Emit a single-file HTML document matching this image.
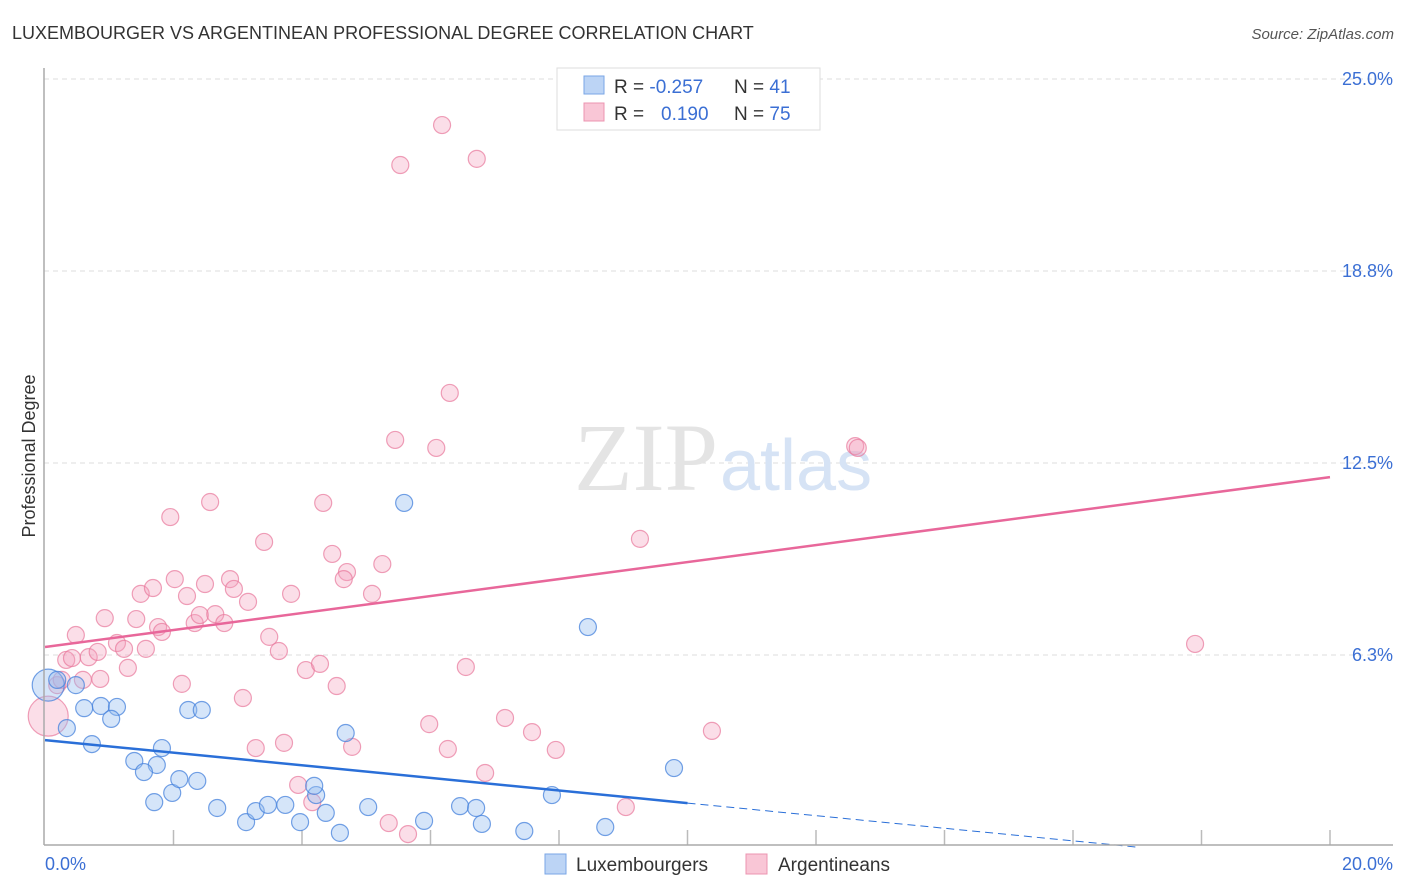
<!DOCTYPE html>
<html><head><meta charset="utf-8"><style>
body{margin:0;background:#fff;font-family:"Liberation Sans",sans-serif}
svg{display:block}
</style></head><body>
<svg width="1406" height="892" viewBox="0 0 1406 892" xmlns="http://www.w3.org/2000/svg">
<text x="12" y="39" font-size="18" fill="#333">LUXEMBOURGER VS ARGENTINEAN PROFESSIONAL DEGREE CORRELATION CHART</text>
<text x="1394" y="39" font-size="15" fill="#555" text-anchor="end" font-style="italic">Source: ZipAtlas.com</text>
<g id="grid"></g>
<text x="718" y="490" font-size="96" fill="#e4e4e4" text-anchor="end" font-family="Liberation Serif">ZIP</text>
<text x="720" y="490" font-size="72" fill="#d6e3f5">atlas</text>
<g id="marks"></g>
<line x1="44" y1="68" x2="44" y2="845" stroke="#aaa" stroke-width="1.5"/>
<line x1="44" y1="845" x2="1393" y2="845" stroke="#aaa" stroke-width="1.5"/>
<text x="35" y="456" font-size="18" fill="#333" text-anchor="middle" transform="rotate(-90 35 456)">Professional Degree</text>
<text x="45" y="870" font-size="18" fill="#3b6fd4">0.0%</text>
<text x="1393" y="870" font-size="18" fill="#3b6fd4" text-anchor="end">20.0%</text>
<g>
<rect x="557" y="68" width="263" height="62" fill="#fff" stroke="#ddd"/>
<rect x="584" y="76" width="20" height="18" fill="#bcd4f5" stroke="#7aa6e6"/>
<rect x="584" y="103" width="20" height="18" fill="#f9c6d6" stroke="#ec94b0"/>
<text x="614" y="93" font-size="19" fill="#333">R = <tspan fill="#3b6fd4">-0.257</tspan></text>
<text x="734" y="93" font-size="19" fill="#333">N = <tspan fill="#3b6fd4"> 41</tspan></text>
<text x="614" y="120" font-size="19" fill="#333">R = <tspan fill="#3b6fd4" x="661">0.190</tspan></text>
<text x="734" y="120" font-size="19" fill="#333">N = <tspan fill="#3b6fd4">75</tspan></text>
</g>
<g>
<rect x="545" y="854" width="21" height="20" fill="#bcd4f5" stroke="#7aa6e6"/>
<text x="576" y="871" font-size="19" fill="#333">Luxembourgers</text>
<rect x="746" y="854" width="21" height="20" fill="#f9c6d6" stroke="#ec94b0"/>
<text x="778" y="871" font-size="19" fill="#333">Argentineans</text>
</g>
</svg>
<script>
const yTicks=[25,18.75,12.5,6.25];
const yTickLabels=["25.0%","18.8%","12.5%","6.3%"];
const xTicks=[2,4,6,8,10,12,14,16,18,20];
const luxX=[0.05,0.19,0.48,0.34,0.61,0.87,1.12,1.03,0.73,1.74,1.39,1.54,1.82,2.23,2.44,1.70,1.98,2.09,2.37,2.68,3.13,3.28,3.47,3.74,3.97,4.22,4.19,4.37,4.59,4.68,5.03,5.59,5.90,6.46,6.71,6.80,7.46,7.89,8.45,8.72,9.79];
const luxY=[5.27,5.44,5.27,3.87,4.52,4.59,4.56,4.17,3.35,2.67,2.80,2.44,3.22,4.46,4.46,1.46,1.76,2.21,2.15,1.27,0.81,1.17,1.37,1.37,0.81,1.69,1.99,1.11,0.46,3.71,1.30,11.20,0.85,1.33,1.27,0.75,0.52,1.69,7.16,0.65,2.57];
const argX=[0.05,0.19,0.26,0.93,0.48,0.33,0.42,0.68,0.82,0.86,0.59,1.29,1.42,1.49,1.68,1.12,1.23,1.57,1.95,2.02,1.76,1.82,2.21,2.13,2.33,2.41,2.65,2.49,2.57,2.79,2.88,2.94,3.16,3.08,3.41,3.49,3.64,3.83,3.28,3.72,4.06,4.28,3.94,4.16,4.33,4.47,4.70,4.65,4.54,4.78,5.09,5.25,5.45,5.35,5.53,5.65,5.98,6.09,6.18,6.30,6.27,6.55,6.72,6.85,7.16,7.58,7.95,9.04,9.26,10.38,12.61,12.65,17.90,8.20];
const argY=[4.26,5.27,5.44,7.45,6.90,6.09,6.15,6.18,6.35,5.47,5.44,5.83,7.42,8.24,8.43,6.64,6.45,6.45,10.74,8.72,7.16,7.00,8.17,5.31,7.29,7.55,7.58,8.56,11.23,7.29,8.72,8.40,7.98,4.85,9.93,6.84,6.38,8.24,3.22,3.39,5.76,5.96,2.02,1.46,11.20,9.54,8.95,8.72,5.24,3.26,8.24,9.21,13.25,0.78,22.20,0.42,4.00,12.99,23.50,14.78,3.19,5.86,22.40,2.41,4.20,3.74,3.16,1.30,10.03,3.78,13.05,12.99,6.61,24.74];
const argTrend=[6.51,12.04];
const luxTrend=[3.48,-0.62];
const X=v=>45+v/20*1285;
const Y=v=>847-v*192/6.25;
const NS="http://www.w3.org/2000/svg";
const grid=document.getElementById('grid'),marks=document.getElementById('marks');
function mk(tag,attrs,parent){const e=document.createElementNS(NS,tag);for(const k in attrs)e.setAttribute(k,attrs[k]);parent.appendChild(e);return e;}
yTicks.forEach((t,i)=>{
 const l=mk('line',{x1:44,x2:1393,y1:Y(t),y2:Y(t),stroke:'#ddd','stroke-dasharray':'5,4'},grid);
 
 
 const tx=mk('text',{x:1393,y:Y(t)+6,'font-size':18,fill:'#3b6fd4','text-anchor':'end'},grid);
 tx.textContent=yTickLabels[i];
 
 
});
xTicks.forEach(t=>{
 const l=mk('line',{x1:X(t),x2:X(t),y1:830,y2:845,stroke:'#bbb','stroke-width':1.5},grid);
 
 
});
argX.forEach((v,i)=>{
 const r=i===0?20:8.5;
 const c=mk('circle',{cx:X(v),cy:Y(argY[i]),r:r,fill:'rgba(244,160,188,0.35)',stroke:'rgba(232,120,155,0.7)','stroke-width':1.2},marks);
 
 
});
luxX.forEach((v,i)=>{
 const r=i===0?16:8.5;
 const c=mk('circle',{cx:X(v),cy:Y(luxY[i]),r:r,fill:'rgba(150,190,240,0.4)',stroke:'rgba(70,130,220,0.75)','stroke-width':1.2},marks);
 
 
});
const pl=mk('line',{x1:X(0),y1:Y(argTrend[0]),x2:X(20),y2:Y(argTrend[1]),stroke:'#e8679a','stroke-width':2.5},marks);


const lm=luxTrend[0]+(luxTrend[1]-luxTrend[0])*0.5;
const bl=mk('line',{x1:X(0),y1:Y(luxTrend[0]),x2:X(10),y2:Y(lm),stroke:'#2a6fd8','stroke-width':2.5},marks);


const slope=(luxTrend[1]-luxTrend[0])/20;
const xEnd=Math.min(20,-luxTrend[0]/slope);
const bd=mk('line',{x1:X(10),y1:Y(lm),x2:X(xEnd),y2:Y(luxTrend[0]+slope*xEnd),stroke:'#2a6fd8','stroke-width':1,'stroke-dasharray':'8,5'},marks);


</script>
</body></html>
